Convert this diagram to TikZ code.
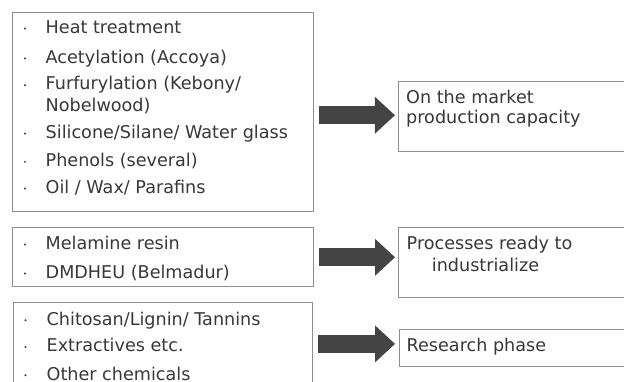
\documentclass[tikz,border=0pt]{standalone}
\usepackage{fontspec}
\setmainfont{DejaVu Sans}
\usetikzlibrary{arrows.meta}
\definecolor{txtcol}{HTML}{383838}
\definecolor{boxcol}{HTML}{8E8E8E}
\definecolor{arrcol}{HTML}{444444}
\tikzset{
  box/.style={draw=boxcol, line width=1.1pt, fill=white, anchor=north west, inner sep=0pt, rectangle},
  txt/.style={anchor=base west, inner sep=0pt, text=txtcol, font=\fontsize{17.6}{21}\selectfont},
  bul/.style={circle, fill=txtcol, inner sep=0pt, minimum size=2.2pt},
  blockarrow/.style={draw=arrcol, line width=18pt, line cap=butt,
     -{Triangle[length=20pt, width=37pt, line width=0pt]}, arrcol}
}
\begin{document}
\begin{tikzpicture}[x=1pt,y=-1pt]
\useasboundingbox (0,0) rectangle (624,382);
% boxes
\node[box, minimum width=301.6pt, minimum height=199pt] (b1) at (11.7,11.7) {};
\node[box, minimum width=228pt, minimum height=70pt] (b2) at (397.9,80.7) {};
\node[box, minimum width=301.6pt, minimum height=59.3pt] (b3) at (11.7,226.7) {};
\node[box, minimum width=228pt, minimum height=70pt] (b4) at (398.3,226.7) {};
\node[box, minimum width=298.4pt, minimum height=90pt] (b5) at (13.3,302.3) {};
\node[box, minimum width=228pt, minimum height=36.7pt] (b6) at (398.8,329.3) {};
% arrow end points
\coordinate (a1s) at ([xshift=5pt,yshift=-3.5pt]b1.east);
\coordinate (a1e) at (b2.west |- a1s);
\coordinate (a2s) at ([xshift=5pt,yshift=-0.4pt]b3.east);
\coordinate (a2e) at (b4.west |- a2s);
\coordinate (a3e) at ([yshift=4.3pt]b6.west);
\coordinate (a3s) at (b5.east |- a3e);
% arrows
\draw[blockarrow] (a1s) -- ([xshift=-3pt]a1e);
\draw[blockarrow] (a2s) -- ([xshift=-3.3pt]a2e);
\draw[blockarrow] ([xshift=5pt]a3s) -- ([xshift=-3.8pt]a3e);
% box 1 text
\node[txt] (t11) at (45.5,33.3) {Heat treatment};
\node[txt] (t12) at (45.5,63.3) {Acetylation (Accoya)};
\node[txt] (t13) at (45.5,90) {Furfurylation (Kebony/};
\node[txt] (t13b) at (45.5,111.7) {Nobelwood)};
\node[txt] (t14) at (45.5,138.3) {Silicone/Silane/ Water glass};
\node[txt] (t15) at (45.5,166.7) {Phenols (several)};
\node[txt] (t16) at (45.5,193.3) {Oil / Wax/ Parafins};
\foreach \y [count=\i] in {33.3,63.3,90,138.3,166.7,193.3}
  \node[bul] (p1\i) at (25,\y-4.8) {};
% box 2 text
\node[txt] (t21) at (406,104) {On the market};
\node[txt] (t22) at (406,124) {production capacity};
% box 3 text
\node[txt] (t31) at (45.5,249.3) {Melamine resin};
\node[txt] (t32) at (45.5,278.3) {DMDHEU (Belmadur)};
\foreach \y [count=\i] in {249.3,278.3}
  \node[bul] (p3\i) at (25,\y-4.8) {};
% box 4 text
\node[txt] (t41) at (406.5,249.3) {Processes ready to};
\node[txt] (t42) at (431.7,271.7) {industrialize};
% box 5 text
\node[txt] (t51) at (46.5,325) {Chitosan/Lignin/ Tannins};
\node[txt] (t52) at (46.5,351.7) {Extractives etc.};
\node[txt] (t53) at (46.5,380) {Other chemicals};
\foreach \y [count=\i] in {325,351.7,380}
  \node[bul] (p5\i) at (25.5,\y-4.8) {};
% box 6 text
\node[txt] (t61) at (406.5,351.7) {Research phase};
\end{tikzpicture}
\end{document}
